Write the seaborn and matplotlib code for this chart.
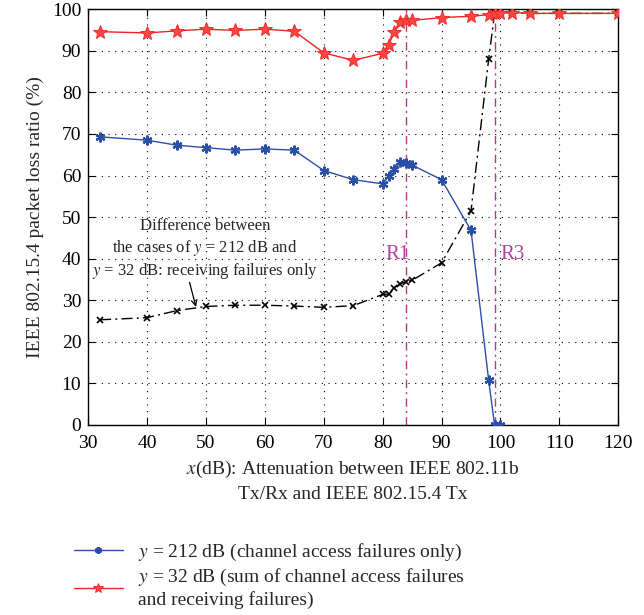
import matplotlib
matplotlib.use("Agg")
import matplotlib.pyplot as plt
import seaborn as sns
import pandas as pd

x_blue = [32, 40, 45, 50, 55, 60, 65, 70, 75, 80, 81, 82, 83, 84, 85, 90, 95, 98, 99, 100]
y_blue = [69.3, 68.5, 67.3, 66.7, 66.1, 66.4, 66.1, 61.2, 59.0, 58.0, 59.8, 61.5, 63.3, 63.0, 62.5, 59.0, 46.8, 10.7, 0.0, 0.0]

x_red = [32, 40, 45, 50, 55, 60, 65, 70, 75, 80, 81, 82, 83, 84, 85, 90, 95, 98, 99, 100, 102, 105, 110, 120]
y_red = [94.6, 94.3, 94.8, 95.2, 94.9, 95.2, 94.7, 89.5, 87.7, 89.4, 91.5, 94.5, 97.0, 97.4, 97.3, 98.0, 98.3, 98.7, 99.0, 99.2, 99.2, 99.0, 99.0, 99.0]

x_diff = x_red
y_diff = [25.3, 25.8, 27.5, 28.5, 28.8, 28.8, 28.6, 28.3, 28.7, 31.4, 31.5, 33.0, 34.0, 34.4, 34.8, 39.0, 51.5, 88.0, 99.0, 99.2, 99.2, 99.0, 99.0, 99.0]

region_x = [84, 99]
region_labels = ["R1", "R3"]

xticks = list(range(30, 121, 10))
yticks = list(range(0, 101, 10))

sns.set_style("ticks")
plt.rcParams['font.family'] = ['Liberation Serif', 'DejaVu Serif']
plt.rcParams['mathtext.fontset'] = 'stix'

fig = plt.figure(figsize=(6.44, 6.15), dpi=100)
ax = fig.add_axes([0.137, 0.309, 0.823, 0.676])

df_b = pd.DataFrame({"x": x_blue, "y": y_blue})
df_r = pd.DataFrame({"x": x_red, "y": y_red})
df_d = pd.DataFrame({"x": x_diff, "y": y_diff})

sns.lineplot(data=df_d, x="x", y="y", ax=ax, color="black", lw=1.0,
             marker="x", markersize=4, mew=1.2, mec="black", linestyle=(0, (8, 3, 1.5, 3)), zorder=3)
sns.lineplot(data=df_r, x="x", y="y", ax=ax, color="#ee2222", lw=1.0,
             marker="*", markersize=10, mec="#ee2222", mfc="#ff4444", mew=0.6, zorder=4,
             label="$y$ = 32 dB (sum of channel access failures\nand receiving failures)")
sns.lineplot(data=df_b, x="x", y="y", ax=ax, color="#2a4fa8", lw=1.0,
             marker=(6, 2, 0), markersize=7, mew=1.6, mec="#2a4fa8", zorder=5,
             label="$y$ = 212 dB (channel access failures only)")

for rx, lab, dx in zip(region_x, region_labels, [-3.6, 1.0]):
    ax.axvline(rx, color="#b03a8a", lw=1.0, linestyle=(0, (6, 3, 1.5, 3)), zorder=2)
    ax.text(rx + dx, 41, lab, color="#b0449a", fontsize=15, ha="left", va="center")

ax.text(49.8, 42.2, "Difference between\nthe cases of $y$ = 212 dB and\n$y$ = 32 dB: receiving failures only",
        ha="center", va="center", fontsize=12, linespacing=1.25)
ax.annotate("", xy=(48.3, 28.4), xytext=(47.2, 34.3),
            arrowprops=dict(arrowstyle="->", color="black", lw=0.9, shrinkA=0, shrinkB=0))

ax.set_xlim(30, 120)
ax.set_ylim(0, 100)
ax.set_xticks(xticks)
ax.set_yticks(yticks)
ax.tick_params(direction="in", top=True, right=True, labelsize=14, length=5, colors="black")
ax.tick_params(axis="x", pad=7)
ax.tick_params(axis="y", pad=5)
ax.grid(True, color="black", linestyle=(0, (1, 5)), lw=0.8)
for s in ax.spines.values():
    s.set_color("black")
    s.set_linewidth(1.0)

ax.set_xlabel("$x$(dB): Attenuation between IEEE 802.11b\nTx/Rx and IEEE 802.15.4 Tx", fontsize=14,
              labelpad=5, linespacing=1.45)
ax.set_ylabel("IEEE 802.15.4 packet loss ratio (%)", fontsize=14, labelpad=6)

handles, labels = ax.get_legend_handles_labels()
ax.legend(handles[::-1], labels[::-1], loc="upper left", bbox_to_anchor=(-0.06, -0.24),
          frameon=False, fontsize=14, handlelength=2.5, labelspacing=0.2, markerscale=0.7,
          handletextpad=0.8)

fig.savefig("out.png", dpi=100)
